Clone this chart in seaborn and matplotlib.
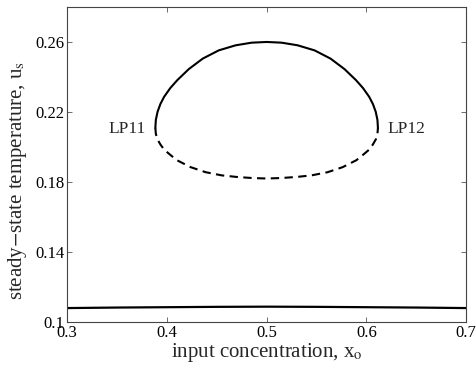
import numpy as np
import pandas as pd
import matplotlib
matplotlib.use("Agg")
import matplotlib.pyplot as plt
import seaborn as sns

# Upper (stable) branch of the isola, from LP11 over the peak to LP12
upper_x = [0.3885, 0.3890, 0.3907, 0.3935, 0.3973, 0.4035, 0.4105, 0.4220, 0.4360,
           0.4520, 0.4690, 0.4850, 0.5000, 0.5150, 0.5310, 0.5480, 0.5640, 0.5780,
           0.5895, 0.5965, 0.6027, 0.6065, 0.6093, 0.6110, 0.6115]
upper_u = [0.2110, 0.2155, 0.2201, 0.2245, 0.2287, 0.2337, 0.2382, 0.2445, 0.2505,
           0.2552, 0.2581, 0.2596, 0.2600, 0.2596, 0.2581, 0.2552, 0.2505, 0.2445,
           0.2382, 0.2337, 0.2287, 0.2245, 0.2201, 0.2155, 0.2110]

# Lower (unstable) branch of the isola
lower_x = [0.3885, 0.3890, 0.3905, 0.3935, 0.3973, 0.4035, 0.4100, 0.4238, 0.4390,
           0.4550, 0.4700, 0.4850, 0.5000, 0.5150, 0.5300, 0.5450, 0.5610, 0.5762,
           0.5900, 0.5965, 0.6027, 0.6065, 0.6095, 0.6110, 0.6115]
lower_u = [0.2110, 0.2075, 0.2045, 0.2015, 0.1985, 0.1955, 0.1925, 0.1885, 0.1856,
           0.1838, 0.1829, 0.1823, 0.1820, 0.1823, 0.1829, 0.1838, 0.1856, 0.1885,
           0.1925, 0.1955, 0.1985, 0.2015, 0.2045, 0.2075, 0.2110]

# Low-temperature branch across the whole range
base_x = [0.30, 0.35, 0.40, 0.45, 0.50, 0.55, 0.60, 0.65, 0.70]
base_u = [0.1080, 0.1083, 0.1085, 0.1087, 0.1088, 0.1087, 0.1085, 0.1083, 0.1080]

x_ticks = [0.3, 0.4, 0.5, 0.6, 0.7]
x_tick_labels = ["0.3", "0.4", "0.5", "0.6", "0.7"]
y_ticks = [0.10, 0.14, 0.18, 0.22, 0.26]
y_tick_labels = ["0.1", "0.14", "0.18", "0.22", "0.26"]

sns.set_style("ticks")
plt.rcParams["font.family"] = ["Liberation Serif", "DejaVu Serif"]
plt.rcParams["mathtext.fontset"] = "stix"

fig = plt.figure(figsize=(4.77, 3.66), dpi=100)
ax = fig.add_axes([0.1405, 0.120, 0.837, 0.861])

upper = pd.DataFrame({"x": upper_x, "u": upper_u})
lower = pd.DataFrame({"x": lower_x, "u": lower_u})
base = pd.DataFrame({"x": base_x, "u": base_u})

sns.lineplot(data=upper, x="x", y="u", sort=False, color="black", lw=1.5, ax=ax)
sns.lineplot(data=lower, x="x", y="u", sort=False, color="black", lw=1.5, ax=ax)
ax.lines[-1].set_dashes([4, 2.6])
sns.lineplot(data=base, x="x", y="u", sort=False, color="black", lw=1.6, ax=ax)

ax.set_xlim(0.3, 0.7)
ax.set_ylim(0.1, 0.28)
ax.set_xticks(x_ticks)
ax.set_xticklabels(x_tick_labels)
ax.set_yticks(y_ticks)
ax.set_yticklabels(y_tick_labels)
ax.tick_params(direction="in", length=3.5, width=0.6, colors="#555555",
               labelcolor="black", labelsize=12, top=True, right=True, pad=2)
for s in ax.spines.values():
    s.set_color("#444444")
    s.set_linewidth(0.8)

ax.set_xlabel(r"input concentration, x$_\mathrm{o}$", fontsize=15, labelpad=0)
ax.set_ylabel(r"steady$-$state temperature, u$_\mathrm{s}$", fontsize=15)
ax.yaxis.set_label_coords(-0.095, 0.45)

ax.text(0.379, 0.2105, "LP11", fontsize=12.5, ha="right", va="center")
ax.text(0.621, 0.2105, "LP12", fontsize=12.5, ha="left", va="center")

fig.savefig("out.png", dpi=100)
